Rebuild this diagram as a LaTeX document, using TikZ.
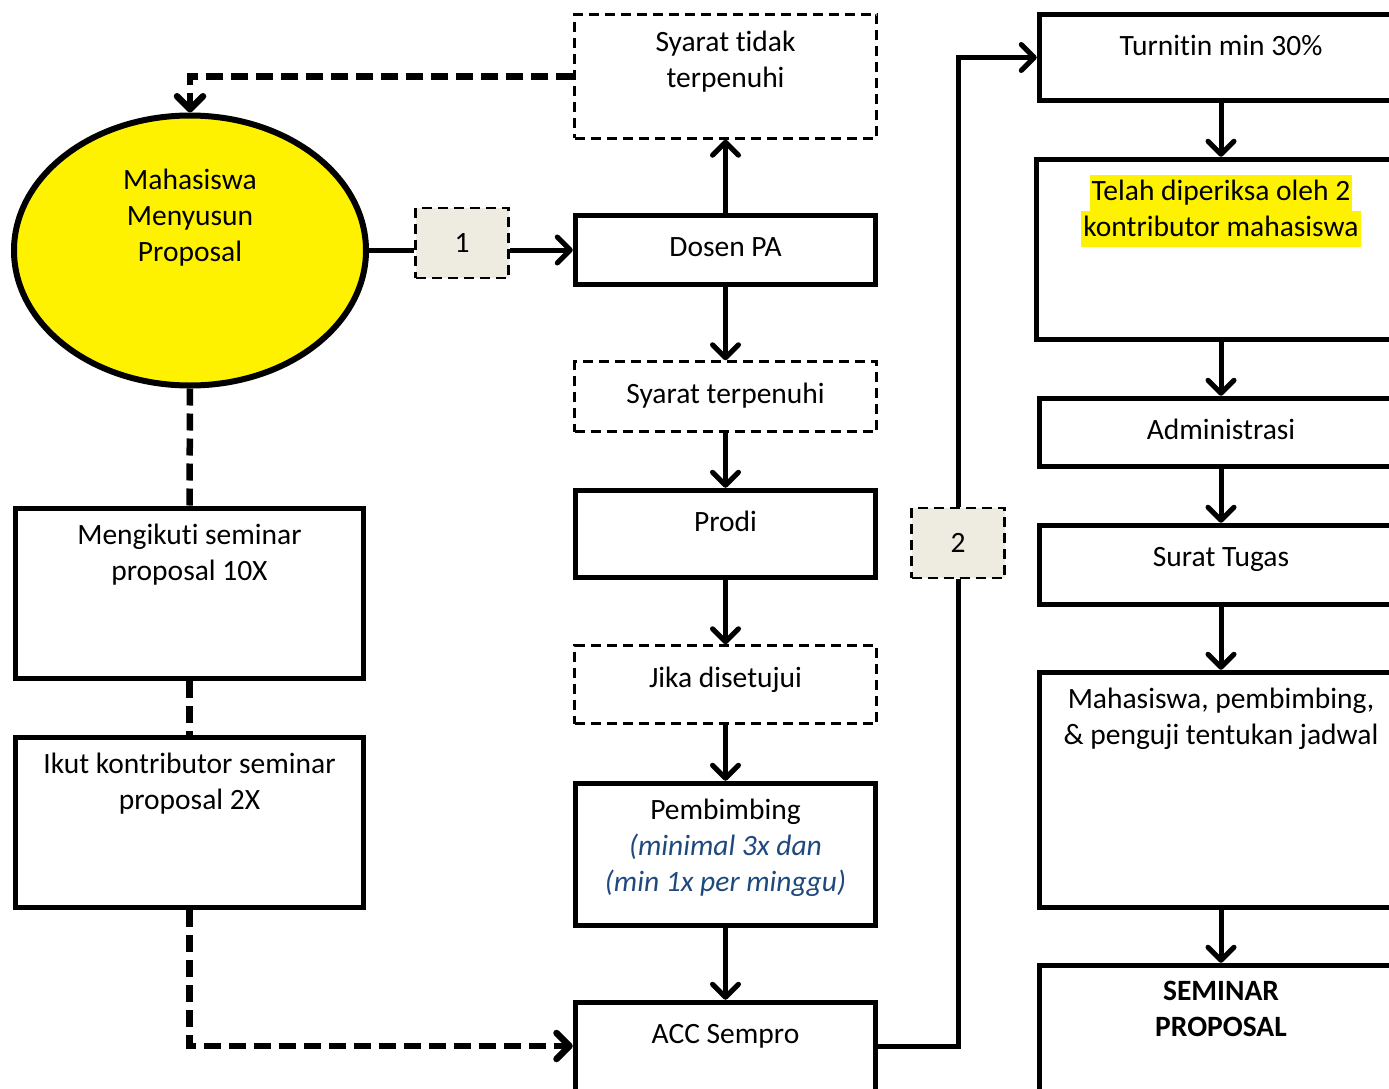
\documentclass[tikz,border=0pt]{standalone}
\usepackage{fontspec}
\setmainfont{Carlito}[Ligatures={CommonOff,ContextualOff}]
\usetikzlibrary{arrows.meta,shapes.geometric}
\definecolor{beige}{RGB}{238,236,225}
\definecolor{notes}{RGB}{31,73,125}
\newcommand{\sorot}[1]{{\setlength{\fboxsep}{0pt}\colorbox{yellow}{\strut\kern2pt #1\kern2pt}}}

\begin{document}
\begin{tikzpicture}[x=1pt,y=-1pt,font=\fontsize{29.5}{36}\selectfont]
    \tikzstyle{box}=[rectangle,draw,line width=5.5pt,minimum width=300pt]
    \tikzstyle{condbox}=[rectangle,draw,line width=2.5pt,dash pattern=on 10pt off 6pt,minimum width=302pt]
    \tikzstyle{numbox}=[rectangle,draw,line width=2.5pt,dash pattern=on 10pt off 6pt,fill=beige,minimum width=93pt,minimum height=70pt]
    \tikzstyle{txt}=[anchor=north,align=center,inner sep=0pt,execute at begin node=\strut]
    \tikzstyle{head}=[txt,yshift=-18pt]
    \tikzstyle{flow}=[line width=5pt,-{Straight Barb[length=13pt,width=26pt,round]}]
    \tikzstyle{track}=[line width=6.5pt,dash pattern=on 17pt off 8pt]
    \tikzstyle{trackarrow}=[track,-{Straight Barb[length=13pt,width=26pt,round]}]
    \useasboundingbox (0,0) rectangle (1389,1089);
    \clip (0,0) rectangle (1389,1089);
    % left column
    \node (mhs) at (190,250.5) [ellipse,draw,line width=6pt,fill=yellow,minimum width=352pt,minimum height=270pt,inner sep=0pt,label={[txt,yshift=30pt]center:Mahasiswa\\Menyusun\\Proposal}] {};
    \node (ikuti)  at (189.5,593.5) [box,minimum width=348pt,minimum height=170pt,label={[head]north:Mengikuti seminar\\proposal 10X}] {};
    \node (kontri) at (189.5,822.5) [box,minimum width=348pt,minimum height=170pt,label={[head]north:Ikut kontributor seminar\\proposal 2X}] {};
    \node (n1) at (462,243) [numbox] {1};
    % middle column
    \node (tidak)   at (725.5,76.5)  [condbox,minimum height=124pt,label={[head]north:Syarat tidak\\terpenuhi}] {};
    \node (dosen)   at (725.5,250)   [box,minimum height=69pt,label={[head]north:Dosen PA}] {};
    \node (penuh)   at (725.5,396.5) [condbox,minimum height=70pt,label={[head]north:Syarat terpenuhi}] {};
    \node (prodi)   at (725.5,534)   [box,minimum height=87pt,label={[head]north:Prodi}] {};
    \node (setuju)  at (725.5,684.5) [condbox,minimum height=78pt,label={[head]north:Jika disetujui}] {};
    \node (bimbing) at (725.5,854.5) [box,minimum height=142pt,label={[head]north:Pembimbing\\\textcolor{notes}{\itshape (minimal 3x dan}\\\textcolor{notes}{\itshape (min 1x per minggu)}}] {};
    \node (acc)     at (725.5,1050)  [box,minimum height=95pt,label={[head]north:ACC Sempro}] {};
    \node (n2) at (958,543) [numbox] {2};
    % right column
    \node (turnitin) at (1221,57.5)  [box,minimum width=363pt,minimum height=86pt,label={[head]north:Turnitin min 30\%}] {};
    \node (periksa)  at (1221,249.5) [box,minimum width=369pt,minimum height=180pt,label={[head]north:\sorot{Telah diperiksa oleh 2}\\\sorot{kontributor mahasiswa}}] {};
    \node (admin)    at (1221,432.5) [box,minimum width=363pt,minimum height=68pt,label={[head]north:Administrasi}] {};
    \node (surat)    at (1221,565)   [box,minimum width=363pt,minimum height=79pt,label={[head]north:Surat Tugas}] {};
    \node (jadwal)   at (1221,790)   [box,minimum width=363pt,minimum height=235pt,label={[head]north:Mahasiswa, pembimbing,\\\& penguji tentukan jadwal}] {};
    \node (sempro)   at (1221,1030)  [box,minimum width=363pt,minimum height=129pt,label={[head]north:\textbf{SEMINAR}\\\textbf{PROPOSAL}}] {};
    % connectors
    \draw [line width=5pt] (mhs.east) -- (mhs.east -| n1.west);
    \draw [flow] (n1.east |- dosen.west) -- (dosen.west);
    \draw [flow] (dosen.north) -- (tidak.south);
    \draw [trackarrow] (tidak.west) -| (mhs.north);
    \draw [flow] (dosen.south) -- (penuh.north);
    \draw [flow] (penuh.south) -- (prodi.north);
    \draw [flow] (prodi.south) -- (setuju.north);
    \draw [flow] (setuju.south) -- (bimbing.north);
    \draw [flow] (bimbing.south) -- (acc.north);
    \draw [line width=5pt] ([yshift=4pt]acc.east) -| (n2.south);
    \draw [flow] (n2.north) |- (turnitin.west);
    \draw [flow] (turnitin.south) -- (periksa.north);
    \draw [flow] (periksa.south) -- (admin.north);
    \draw [flow] (admin.south) -- (surat.north);
    \draw [flow] (surat.south) -- (jadwal.north);
    \draw [flow] (jadwal.south) -- (sempro.north);
    \draw [track] (mhs.south) -- (ikuti.north);
    \draw [track] (ikuti.south) -- (kontri.north);
    \draw [trackarrow] (kontri.south) |- ([yshift=4pt]acc.west);
\end{tikzpicture}
\end{document}
